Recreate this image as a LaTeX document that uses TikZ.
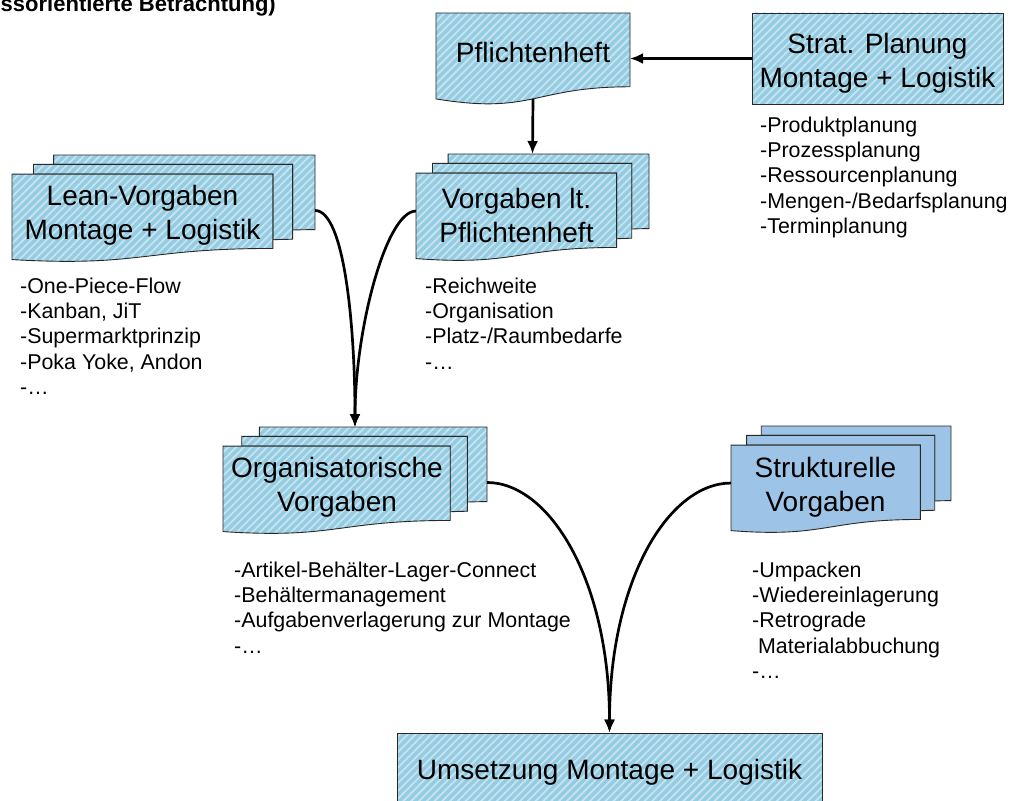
\documentclass[tikz,border=0pt]{standalone}
\usepackage{fontspec}
\setmainfont{Liberation Sans}
\usetikzlibrary{arrows.meta,patterns.meta}

\definecolor{boxblue}{RGB}{150,204,226}
\definecolor{stripe}{RGB}{196,228,240}
\definecolor{plainblue}{RGB}{157,195,230}
\definecolor{edge}{RGB}{40,40,40}

\tikzset{
  hatched/.style={preaction={fill=boxblue},
    pattern={Lines[angle=45,distance=5.5pt,line width=1.8pt]},
    pattern color=stripe, draw=edge, line width=0.9pt},
  plain/.style={fill=plainblue, draw=edge, line width=0.9pt},
  heading/.style={font=\fontsize{28}{34}\selectfont, align=center, inner sep=0pt},
  bullets/.style={font=\fontsize{21.4}{25.4}\selectfont, align=left,
    anchor=north west, inner sep=0pt},
  link/.style={line width=2.7pt, -{Latex[length=13pt,width=11pt]}},
}

% stack of three documents: name, x, y, width, height, style
\newcommand{\stackdoc}[6]{%
  \begin{scope}[shift={(#2,#3)}, xscale=#4/216, yscale=#5/216]
    \path[#6] (29.72,18.15) -- (29.72,0) -- (216,0) -- (216,143.92)
      .. controls (208,143.92) and (200,144.67) .. (200,144.67)
      -- (200,18.15) -- cycle;
    \path[#6] (15.32,36.75) -- (15.32,18.15) -- (200,18.15) -- (200,162.52)
      .. controls (192.98,162.52) and (185.95,163.52) .. (185.95,163.52)
      -- (185.95,36.75) -- cycle;
    \path[#6] (0,36.75) -- (185.95,36.75) -- (185.95,180.22)
      .. controls (92.98,180.22) and (92.98,216) .. (0,201.72) -- cycle;
    \coordinate (#1-T) at (108,0);
    \coordinate (#1-R) at (216,107);
    \coordinate (#1-L) at (0,110);
  \end{scope}}

% single document: name, x, y, width, height, style
\newcommand{\singledoc}[6]{%
  \begin{scope}[shift={(#2,#3)}, xscale=#4/216, yscale=#5/216]
    \path[#6] (0,0) -- (216,0) -- (216,173.22)
      .. controls (108,173.22) and (108,239.22) .. (0,201.72) -- cycle;
    \coordinate (#1-B) at (108,201.5);
    \coordinate (#1-R) at (216,110);
  \end{scope}}

\begin{document}
\begin{tikzpicture}[x=1pt,y=-1pt]
  \useasboundingbox (0,0) rectangle (1014,800);
  \clip (0,0) rectangle (1014,800);

  \node[anchor=base east, inner sep=0pt,
    font=\bfseries\fontsize{22}{26}\selectfont] (title) at (276,12)
    {ssorientierte Betrachtung)};

  % document shapes
  \singledoc{pf}{436}{13}{194}{92}{hatched}
  \stackdoc{lean}{12}{155}{303}{112}{hatched}
  \stackdoc{vorg}{416}{154}{233}{112}{hatched}
  \stackdoc{org}{223}{427}{264}{112}{hatched}
  \stackdoc{struk}{731}{426}{220}{112}{plain}

  % boxes and labels
  \node[hatched, minimum width=251pt, minimum height=91pt, inner sep=0pt]
    (strat) at (877.5,58.5) {};
  \node[heading] (stratT) at (877.5,63.5) {Strat. Planung\\Montage + Logistik};
  \node[heading] (pflicht) at (533,52) {Pflichtenheft};
  \node[heading] (leanT) at (142.5,215) {Lean-Vorgaben\\Montage + Logistik};
  \node[heading] (vorgT) at (516.5,215) {Vorgaben lt.\\Pflichtenheft};
  \node[heading] (orgT) at (337,487) {Organisatorische\\Vorgaben};
  \node[heading] (strukT) at (825.5,487) {Strukturelle\\Vorgaben};
  \node[heading, hatched, minimum width=425pt, minimum height=78pt] (ums)
    at (609.5,772) {Umsetzung Montage + Logistik};

  % bullet lists
  \node[bullets] (stratL) at (760,114.2)
    {\strut-Produktplanung\\\strut-Prozessplanung\\\strut-Ressourcenplanung\\
     \strut-Mengen-/Bedarfsplanung\\\strut-Terminplanung};
  \node[bullets] (leanL) at (20,275.2)
    {\strut-One-Piece-Flow\\\strut-Kanban, JiT\\\strut-Supermarktprinzip\\
     \strut-Poka Yoke, Andon\\\strut-…};
  \node[bullets] (vorgL) at (425,275.2)
    {\strut-Reichweite\\\strut-Organisation\\\strut-Platz-/Raumbedarfe\\\strut-…};
  \node[bullets] (orgL) at (234,559.2)
    {\strut-Artikel-Behälter-Lager-Connect\\\strut-Behältermanagement\\
     \strut-Aufgabenverlagerung zur Montage\\\strut-…};
  \node[bullets] (strukL) at (752,559.2)
    {\strut-Umpacken\\\strut-Wiedereinlagerung\\\strut-Retrograde\\
     \strut\ Materialabbuchung\\\strut-…};

  % connectors
  \draw[link] (strat.west) -- (strat.west -| pf-R);
  \draw[link] (pf-B) -- (vorg-T);
  \draw[link] (lean-R) .. controls +(30,0) and +(0,-97) .. (org-T);
  \draw[link] (vorg-L) .. controls +(-30,0) and +(0,-97) .. (org-T);
  \draw[link] (org-R) .. controls +(62,0) and +(0,-153) .. (ums.north);
  \draw[link] (struk-L) .. controls +(-62,0) and +(0,-153) .. (ums.north);
\end{tikzpicture}
\end{document}
